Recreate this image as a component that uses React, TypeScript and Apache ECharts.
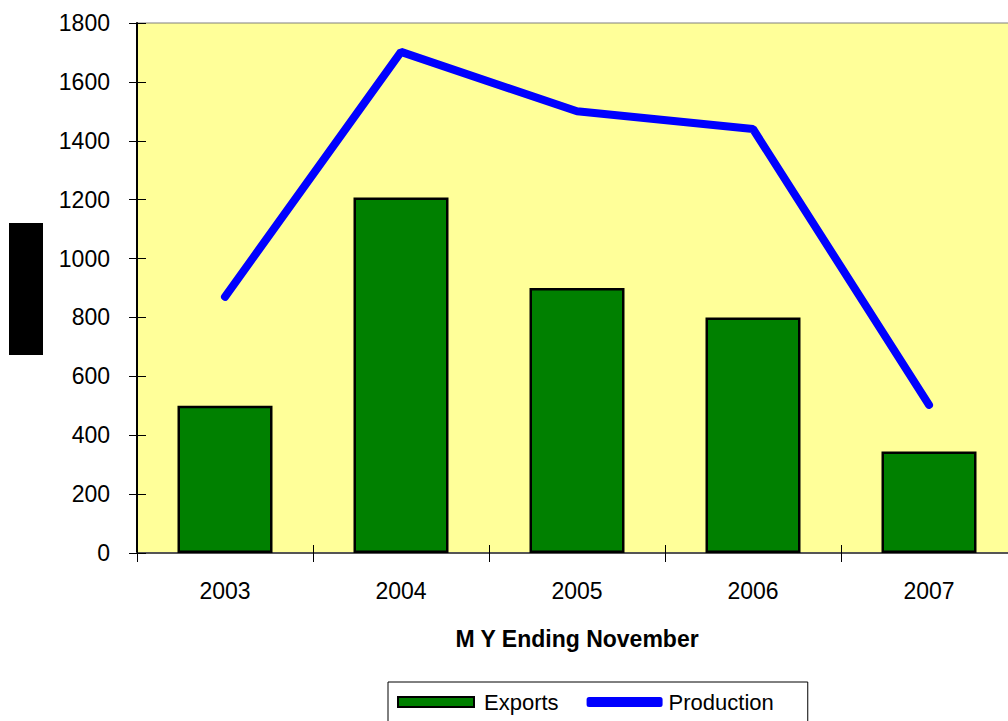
import React, { useEffect, useRef } from "react";
import * as echarts from "echarts";

const categories = ["2003", "2004", "2005", "2006", "2007"];
const exportsValues = [500, 1207, 900, 800, 345];
const productionValues = [870, 1702, 1500, 1440, 503];
const yTicks = [0, 200, 400, 600, 800, 1000, 1200, 1400, 1600, 1800];
const xAxisTitle = "M Y Ending November";
const seriesNames = ["Exports", "Production"];

export default function App() {
  const ref = useRef<HTMLDivElement>(null);
  useEffect(() => {
    if (!ref.current) return;
    const chart = echarts.init(ref.current, undefined, { renderer: "svg" });
    const font = "'Liberation Sans', Arial, sans-serif";
    const yMax = yTicks[yTicks.length - 1];
    const yInterval = yTicks[1] - yTicks[0];
    chart.setOption({
      animation: false,
      textStyle: { fontFamily: font },
      grid: {
        left: 137,
        top: 23,
        width: 880,
        height: 530,
        containLabel: false,
        outerBoundsMode: "none",
        show: true,
        backgroundColor: "#FFFF99",
        borderColor: "#808080",
        borderWidth: 1,
      },
      legend: {
        left: 388,
        top: 682,
        orient: "horizontal",
        itemWidth: 76,
        itemHeight: 10,
        itemGap: 28,
        padding: [9, 34, 9, 9],
        borderColor: "#000",
        borderWidth: 1,
        textStyle: { fontSize: 22, color: "#000", fontFamily: font },
        data: [
          {
            name: seriesNames[0],
            icon: "rect",
            itemStyle: { color: "#008000", borderColor: "#000", borderWidth: 2 },
            textStyle: { padding: [0, 0, 0, 5] },
          },
          {
            name: seriesNames[1],
            icon: "roundRect",
            itemStyle: { color: "#0000FF", borderColor: "#0000FF", borderWidth: 0 },
            textStyle: { padding: [0, 0, 0, 1] },
          },
        ],
      },
      xAxis: [
        {
          type: "category",
          data: categories,
          boundaryGap: true,
          axisLine: { show: true, lineStyle: { color: "#555", width: 2 } },
          axisTick: { show: true, length: 9, lineStyle: { color: "#000" } },
          axisLabel: { fontSize: 23, color: "#000", margin: 26, fontFamily: font },
          name: xAxisTitle,
          nameLocation: "middle",
          nameGap: 74,
          nameTextStyle: { fontSize: 23, fontWeight: "bold", color: "#000", fontFamily: font },
        },
        {
          type: "category",
          data: categories,
          position: "bottom",
          axisLine: { show: false },
          axisTick: { show: true, inside: true, length: 8, lineStyle: { color: "#000" } },
          axisLabel: { show: false },
        },
      ],
      yAxis: [
        {
          type: "value",
          min: 0,
          max: yMax,
          interval: yInterval,
          splitLine: { show: false },
          axisLine: { show: true, lineStyle: { color: "#000", width: 2 } },
          axisTick: { show: true, length: 8, lineStyle: { color: "#000" } },
          axisLabel: {
            fontSize: 23,
            color: "#000",
            margin: 27,
            fontFamily: font,
            formatter: (v: number) => String(v),
          },
        },
        {
          type: "value",
          min: 0,
          max: yMax,
          interval: yInterval,
          position: "left",
          splitLine: { show: false },
          axisLine: { show: false },
          axisTick: { show: true, inside: true, length: 9, lineStyle: { color: "#000" } },
          axisLabel: { show: false },
        },
      ],
      graphic: [
        {
          type: "rect",
          shape: { x: 9, y: 223, width: 34, height: 132 },
          style: { fill: "#000" },
        },
      ],
      series: [
        {
          name: seriesNames[0],
          type: "bar",
          data: exportsValues,
          barWidth: 95,
          itemStyle: { color: "#008000", borderColor: "#000", borderWidth: 2.5 },
        },
        {
          name: seriesNames[1],
          type: "line",
          data: productionValues,
          symbol: "none",
          itemStyle: { color: "#0000FF" },
          lineStyle: { color: "#0000FF", width: 8, cap: "round" },
        },
      ],
    });
    return () => chart.dispose();
  }, []);
  return (
    <div
      ref={ref}
      style={{ position: "fixed", left: 0, top: 0, width: 1008, height: 721, background: "#fff" }}
    />
  );
}
